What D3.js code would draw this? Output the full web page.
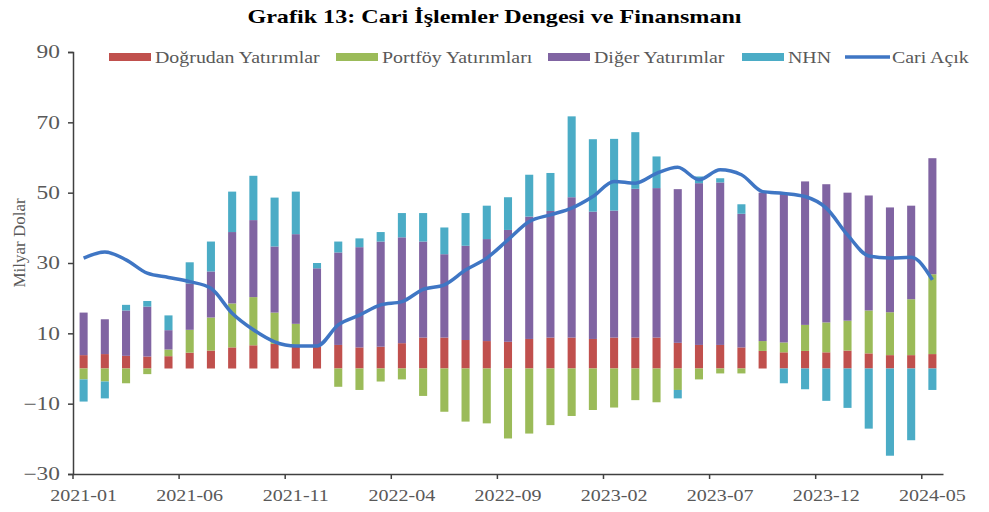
<!DOCTYPE html>
<html>
<head>
<meta charset="utf-8">
<script src="https://cdn.jsdelivr.net/npm/d3@7"></script>
<style>
  body { margin: 0; background: #fff; }
  text { font-family: "Liberation Serif", "Times New Roman", serif; }
</style>
</head>
<body>
<div id="chart"></div>
<script>
const width = 989;
const height = 512;

// months 2021-01 .. 2024-05
const months = [
  "2021-01","2021-02","2021-03","2021-04","2021-05","2021-06","2021-07","2021-08","2021-09","2021-10","2021-11","2021-12",
  "2022-01","2022-02","2022-03","2022-04","2022-05","2022-06","2022-07","2022-08","2022-09","2022-10","2022-11","2022-12",
  "2023-01","2023-02","2023-03","2023-04","2023-05","2023-06","2023-07","2023-08","2023-09","2023-10","2023-11","2023-12",
  "2024-01","2024-02","2024-03","2024-04","2024-05"
];

const dogrudan = [3.8,4.1,3.6,3.4,3.5,4.5,5.1,6.0,6.6,7.0,6.2,6.2,
  6.7,6.0,6.2,7.2,8.8,8.8,8.1,7.8,7.6,8.4,8.8,8.8,
  8.4,8.8,8.8,8.8,7.3,6.7,6.7,6.0,5.0,4.6,5.0,4.6,
  5.1,4.3,3.8,3.8,4.1];
const portfoy = [-3.1,-3.7,-4.2,-1.6,1.9,6.5,9.4,12.5,13.7,8.9,6.5,0,
  -5.2,-6.1,-3.7,-3.1,-7.8,-12.3,-15.1,-15.6,-19.9,-18.5,-16.1,-13.5,
  -11.8,-11.1,-9.0,-9.6,-6.1,-3.1,-1.4,-1.4,2.8,2.8,7.4,8.5,
  8.5,12.2,12.2,15.9,22.7];
const diger = [12.1,9.9,12.9,14.2,5.5,13.2,13.1,20.3,21.9,18.8,25.5,22.3,
  26.3,28.5,29.9,30.1,27.3,23.7,26.8,29.0,31.8,34.8,36.0,39.9,
  36.2,36.1,42.3,42.5,43.7,46.0,46.2,38.0,42.2,42.3,40.8,39.3,
  36.4,32.7,29.8,26.6,33.0];
const nhn = [-6.3,-4.8,1.6,1.6,4.2,6.0,8.5,11.5,12.6,13.9,12.1,1.5,
  3.1,2.5,2.7,6.9,8.1,7.6,9.3,9.5,9.3,11.9,10.8,23.0,
  20.6,20.4,16.1,9.0,-2.4,1.9,1.2,2.7,0,-4.2,-5.9,-9.2,
  -11.2,-17.1,-24.8,-20.4,-6.1];
const cariAcik = [31.4,33.1,30.9,27.1,25.9,24.7,22.8,15.7,11.0,7.6,6.4,6.4,
  12.4,15.2,18.1,19.0,22.5,23.8,28.0,31.4,36.6,41.8,43.7,45.6,
  48.9,53.2,52.7,55.5,57.2,53.7,56.5,55.1,50.3,49.8,48.9,45.6,
  38.0,32.0,31.4,31.6,25.2];

const seriesNames = ["Doğrudan Yatırımlar", "Portföy Yatırımları", "Diğer Yatırımlar", "NHN"];
const lineName = "Cari Açık";
const yTicks = [-30, -10, 10, 30, 50, 70, 90];

const colors = ["#C0504D", "#9BBB59", "#8064A2", "#4BACC6"];
const lineColor = "#3F76C4";
const textColor = "#595959";

const margin = {top: 52, right: 46, bottom: 38, left: 73};

const svg = d3.select("#chart")
    .append("svg")
    .attr("width", width)
    .attr("height", height);

// the source picture is a bit wider than tall, so glyphs are stretched sideways
function stretch(sel, k) {
  sel.each(function () {
    const len = this.getComputedTextLength();
    d3.select(this)
      .attr("textLength", len * k)
      .attr("lengthAdjust", "spacingAndGlyphs");
  });
}

const x = d3.scaleBand()
    .domain(months)
    .range([margin.left, width - margin.right]);

const y = d3.scaleLinear()
    .domain([-30, 90])
    .range([height - margin.bottom, margin.top]);

const rows = months.map((m, i) => ({
  month: m,
  k0: dogrudan[i], k1: portfoy[i], k2: diger[i], k3: nhn[i]
}));

const stacked = d3.stack()
    .keys(["k0", "k1", "k2", "k3"])
    .offset(d3.stackOffsetDiverging)(rows);

const bw = x.bandwidth();
const barW = bw * 0.38;

// title
svg.append("text")
    .attr("x", width / 2)
    .attr("y", 23)
    .attr("text-anchor", "middle")
    .attr("font-size", 19)
    .attr("font-weight", "bold")
    .attr("fill", "#000")
    .text("Grafik 13: Cari İşlemler Dengesi ve Finansmanı")
    .call(stretch, 1.27);

// bars
svg.append("g")
    .selectAll("g")
    .data(stacked)
    .enter()
    .append("g")
    .attr("fill", (d, i) => colors[i])
    .selectAll("rect")
    .data(d => d)
    .enter()
    .append("rect")
    .attr("x", d => x(d.data.month) + (bw - barW) / 2)
    .attr("width", barW)
    .attr("y", d => y(Math.max(d[0], d[1])))
    .attr("height", d => Math.abs(y(d[0]) - y(d[1])));

// line
const line = d3.line()
    .x((d, i) => x(months[i]) + bw / 2)
    .y(d => y(d))
    .curve(d3.curveMonotoneX);

svg.append("path")
    .datum(cariAcik)
    .attr("d", line)
    .attr("fill", "none")
    .attr("stroke", lineColor)
    .attr("stroke-width", 3.5)
    .attr("stroke-linejoin", "round");

// y axis
const yAxis = svg.append("g")
    .attr("transform", "translate(" + margin.left + ",0)")
    .call(d3.axisLeft(y).tickValues(yTicks).tickSize(5).tickPadding(8));
yAxis.select(".domain").attr("stroke", "#404040").attr("stroke-width", 1.5);
yAxis.selectAll(".tick line").attr("stroke", "#404040").attr("stroke-width", 1.5);
yAxis.selectAll("text")
    .attr("font-family", "Liberation Serif")
    .attr("font-size", 18)
    .attr("fill", textColor)
    .call(stretch, 1.3);

// x axis: ticks at band edges, labels at band centre
const xTickVals = months.filter((m, i) => i % 5 === 0);
const xAxis = svg.append("g")
    .attr("transform", "translate(0," + (height - margin.bottom) + ")")
    .call(d3.axisBottom(x).tickValues(xTickVals).tickSize(5).tickSizeOuter(0).tickPadding(10));
xAxis.select(".domain").attr("stroke", "#404040").attr("stroke-width", 1.5);
xAxis.selectAll(".tick line")
    .attr("x1", -bw / 2).attr("x2", -bw / 2)
    .attr("stroke", "#404040").attr("stroke-width", 1.5);
xAxis.selectAll("text")
    .attr("font-family", "Liberation Serif")
    .attr("font-size", 17)
    .attr("fill", textColor)
    .call(stretch, 1.18);

// y axis title
svg.append("text")
    .attr("transform", "translate(25,243) rotate(-90)")
    .attr("text-anchor", "middle")
    .attr("font-size", 17)
    .attr("fill", textColor)
    .text("Milyar Dolar");

// legend
const legendItems = [
  {name: seriesNames[0], color: colors[0], x: 109, type: "bar"},
  {name: seriesNames[1], color: colors[1], x: 336, type: "bar"},
  {name: seriesNames[2], color: colors[2], x: 548, type: "bar"},
  {name: seriesNames[3], color: colors[3], x: 742, type: "bar"},
  {name: lineName, color: lineColor, x: 845, type: "line"}
];

const legend = svg.append("g")
    .selectAll("g")
    .data(legendItems)
    .enter()
    .append("g")
    .attr("transform", d => "translate(" + d.x + ",57)");

legend.filter(d => d.type === "bar")
    .append("rect")
    .attr("x", 0).attr("y", -4)
    .attr("width", 42).attr("height", 8)
    .attr("fill", d => d.color);

legend.filter(d => d.type === "line")
    .append("line")
    .attr("x1", 0).attr("x2", 45)
    .attr("stroke", d => d.color)
    .attr("stroke-width", 3.5);

legend.append("text")
    .attr("x", d => d.type === "line" ? 47 : 46)
    .attr("y", 6)
    .attr("font-size", 17)
    .attr("fill", textColor)
    .text(d => d.name)
    .call(stretch, 1.17);
</script>
</body>
</html>
